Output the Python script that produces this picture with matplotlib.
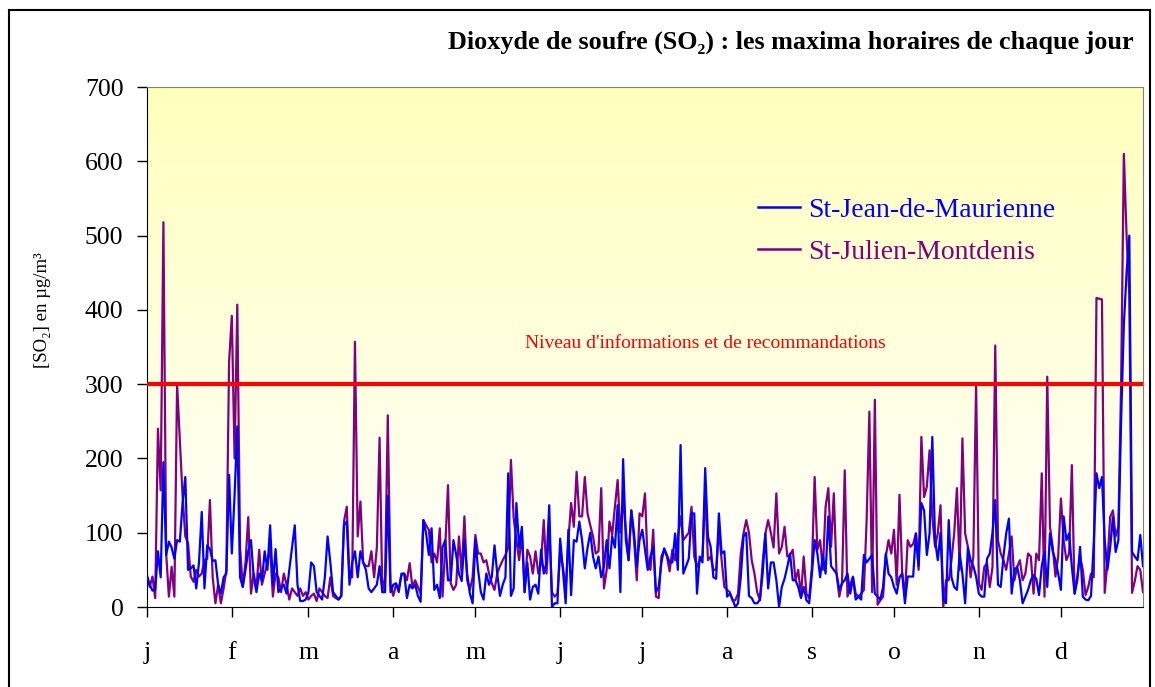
import numpy as np
import matplotlib
matplotlib.use("Agg")
import matplotlib.pyplot as plt
from matplotlib.lines import Line2D
from matplotlib.colors import LinearSegmentedColormap

plt.rcParams['font.family'] = ['Liberation Serif', 'DejaVu Serif']

# daily hourly maxima, SO2 in µg/m3 (365 days)
st_jean = [
    41, 30, 22, 23, 75, 40, 195, 70, 88, 80,
    65, 90, 88, 140, 175, 50, 52, 56, 25, 60,
    128, 25, 83, 78, 62, 63, 30, 18, 40, 45,
    178, 72, 150, 243, 40, 27, 50, 75, 90, 40,
    20, 45, 35, 75, 50, 110, 30, 78, 20, 25,
    30, 18, 50, 80, 110, 30, 8, 8, 10, 20,
    60, 55, 20, 15, 10, 40, 95, 60, 20, 15,
    10, 15, 110, 115, 30, 60, 75, 40, 75, 60,
    50, 25, 20, 25, 30, 55, 20, 20, 150, 20,
    30, 32, 20, 45, 45, 12, 30, 25, 30, 15,
    7, 117, 99, 70, 106, 23, 30, 12, 80, 90,
    36, 36, 90, 70, 45, 35, 90, 45, 18, 5,
    90, 50, 20, 10, 45, 30, 40, 83, 45, 15,
    30, 40, 180, 15, 25, 140, 80, 108, 20, 60,
    10, 27, 30, 18, 77, 45, 60, 137, 0, 5,
    5, 92, 50, 5, 104, 16, 90, 88, 115, 90,
    52, 80, 100, 68, 52, 68, 40, 55, 90, 52,
    95, 80, 137, 20, 199, 90, 63, 130, 99, 54,
    90, 104, 77, 50, 68, 81, 20, 27, 60, 79,
    70, 60, 60, 99, 50, 218, 45, 55, 65, 126,
    126, 18, 68, 60, 187, 95, 81, 40, 38, 126,
    72, 75, 14, 18, 10, 0, 5, 40, 95, 100,
    15, 12, 5, 5, 10, 45, 99, 25, 60, 60,
    36, 0, 27, 38, 54, 72, 36, 36, 27, 12,
    27, 9, 5, 45, 90, 72, 40, 70, 45, 122,
    55, 50, 45, 23, 32, 36, 45, 18, 40, 10,
    14, 10, 70, 60, 65, 70, 18, 14, 10, 27,
    72, 45, 40, 27, 18, 40, 45, 5, 41, 41,
    41, 99, 55, 140, 130, 70, 99, 229, 90, 63,
    100, 10, 5, 117, 40, 27, 23, 72, 45, 5,
    80, 63, 55, 41, 18, 14, 14, 65, 72, 100,
    144, 30, 27, 68, 99, 119, 18, 50, 54, 36,
    5, 14, 23, 36, 43, 38, 16, 55, 75, 27,
    99, 75, 63, 45, 23, 122, 90, 99, 54, 18,
    36, 81, 14, 10, 9, 15, 86, 180, 160, 175,
    90, 50, 80, 121, 74, 90, 250, 380, 450, 500,
    74, 68, 63, 97, 55,
]

st_julien = [
    43, 27, 41, 12, 240, 157, 518, 72, 14, 54,
    14, 300, 225, 150, 95, 86, 41, 34, 50, 41,
    45, 63, 65, 144, 40, 5, 30, 5, 25, 50,
    330, 392, 200, 407, 81, 27, 60, 121, 18, 45,
    25, 77, 30, 45, 60, 80, 14, 45, 40, 20,
    45, 30, 10, 25, 20, 15, 25, 15, 20, 10,
    15, 18, 8, 25, 20, 15, 12, 40, 15, 12,
    10, 15, 115, 135, 40, 40, 357, 95, 142, 60,
    55, 55, 75, 40, 80, 228, 20, 40, 258, 30,
    15, 30, 25, 43, 45, 36, 59, 27, 36, 27,
    18, 117, 110, 104, 60, 72, 60, 106, 14, 81,
    164, 32, 23, 30, 95, 45, 122, 36, 23, 40,
    97, 72, 72, 60, 63, 45, 32, 23, 45, 55,
    63, 70, 80, 198, 120, 90, 63, 100, 20, 77,
    68, 45, 75, 45, 59, 117, 45, 108, 20, 14,
    18, 72, 54, 23, 90, 140, 108, 182, 122, 122,
    175, 126, 110, 95, 72, 75, 160, 25, 50, 115,
    97, 135, 171, 100, 144, 104, 63, 130, 90, 36,
    126, 122, 153, 55, 50, 104, 14, 12, 68, 77,
    68, 48, 77, 63, 95, 122, 90, 95, 100, 135,
    68, 54, 63, 68, 155, 63, 68, 50, 50, 104,
    63, 27, 23, 20, 9, 9, 18, 72, 99, 117,
    100, 63, 45, 20, 9, 60, 99, 117, 100, 80,
    153, 72, 81, 108, 68, 70, 77, 36, 50, 14,
    68, 18, 12, 54, 175, 77, 90, 50, 135, 160,
    81, 153, 45, 14, 32, 184, 14, 30, 41, 18,
    14, 18, 23, 117, 263, 20, 279, 3, 9, 14,
    68, 90, 72, 104, 30, 151, 45, 14, 90, 81,
    85, 99, 50, 229, 148, 162, 211, 122, 81, 99,
    137, 0, 36, 36, 63, 99, 160, 50, 227, 99,
    81, 40, 68, 301, 32, 23, 54, 59, 27, 54,
    352, 90, 72, 63, 50, 72, 95, 36, 54, 63,
    36, 45, 72, 68, 18, 72, 63, 180, 14, 310,
    108, 81, 41, 68, 146, 90, 63, 72, 191, 18,
    41, 68, 50, 16, 27, 45, 40, 416, 415, 414,
    19, 60, 121, 130, 95, 108, 300, 610, 500, 420,
    19, 35, 55, 50, 20,
]

month_start = [0, 31, 59, 90, 120, 151, 181, 212, 243, 273, 304, 334]
month_labels = ['j', 'f', 'm', 'a', 'm', 'j', 'j', 'a', 's', 'o', 'n', 'd']
seuil = 300

fig = plt.figure(figsize=(11.55, 6.87), dpi=100)
ax = fig.add_axes([147 / 1155, 1 - 607 / 687, 996 / 1155, 520 / 687])

n = len(st_jean)
x = np.arange(n)

# yellow -> white background of the plot area
cmap = LinearSegmentedColormap.from_list('bg', ['#ffffff', '#ffffbc'])
grad = np.linspace(0, 1, 256).reshape(-1, 1)
ax.imshow(grad, extent=[0, n - 1, 0, 700], origin='lower', aspect='auto',
          cmap=cmap, zorder=0)

ax.plot(x, st_jean, color='#0000ff', lw=1.6, label='St-Jean-de-Maurienne', zorder=3)
ax.plot(x, st_julien, color='#800080', lw=1.6, label='St-Julien-Montdenis', zorder=2)
ax.axhline(seuil, color='#ff0000', lw=3, zorder=4)
ax.text(204, 355, "Niveau d'informations et de recommandations", color='#ff0000',
        fontsize=14, ha='center', va='center')

ax.set_xlim(0, n - 1)
ax.set_ylim(0, 700)
ax.set_yticks(range(0, 701, 100))
ax.set_xticks(month_start)
ax.set_xticklabels(month_labels)
ax.tick_params(axis='both', labelsize=18.5, direction='out', length=7, width=1)
ax.tick_params(axis='x', pad=18)
ax.tick_params(axis='y', pad=10)
for s in ['top', 'right']:
    ax.spines[s].set_color('#808080')
ax.set_ylabel('[SO₂] en µg/m³', fontsize=13.5)
ax.yaxis.set_label_coords(-0.096, 0.57)

leg = ax.legend(loc='upper left', bbox_to_anchor=(0.6135, 0.788), frameon=False,
                fontsize=20, handlelength=1.5, handletextpad=0.3, labelspacing=0.6,
                borderpad=0, borderaxespad=0, labelcolor='linecolor')
for h in leg.get_lines():
    h.set_linewidth(1.8)

fig.text(1133 / 1155, 1 - 42 / 687,
         'Dioxyde de soufre (SO₂) : les maxima horaires de chaque jour',
         fontsize=18.8, fontweight='bold', ha='right', va='center')

# outer chart frame
fig.add_artist(Line2D([9 / 1155, 9 / 1155], [0, 1 - 10 / 687], color='black', lw=1.5))
fig.add_artist(Line2D([9 / 1155, 1150 / 1155], [1 - 10 / 687, 1 - 10 / 687], color='black', lw=1.5))
fig.add_artist(Line2D([1150 / 1155, 1150 / 1155], [0, 1 - 10 / 687], color='black', lw=1.5))

fig.savefig('out.png', dpi=100)
